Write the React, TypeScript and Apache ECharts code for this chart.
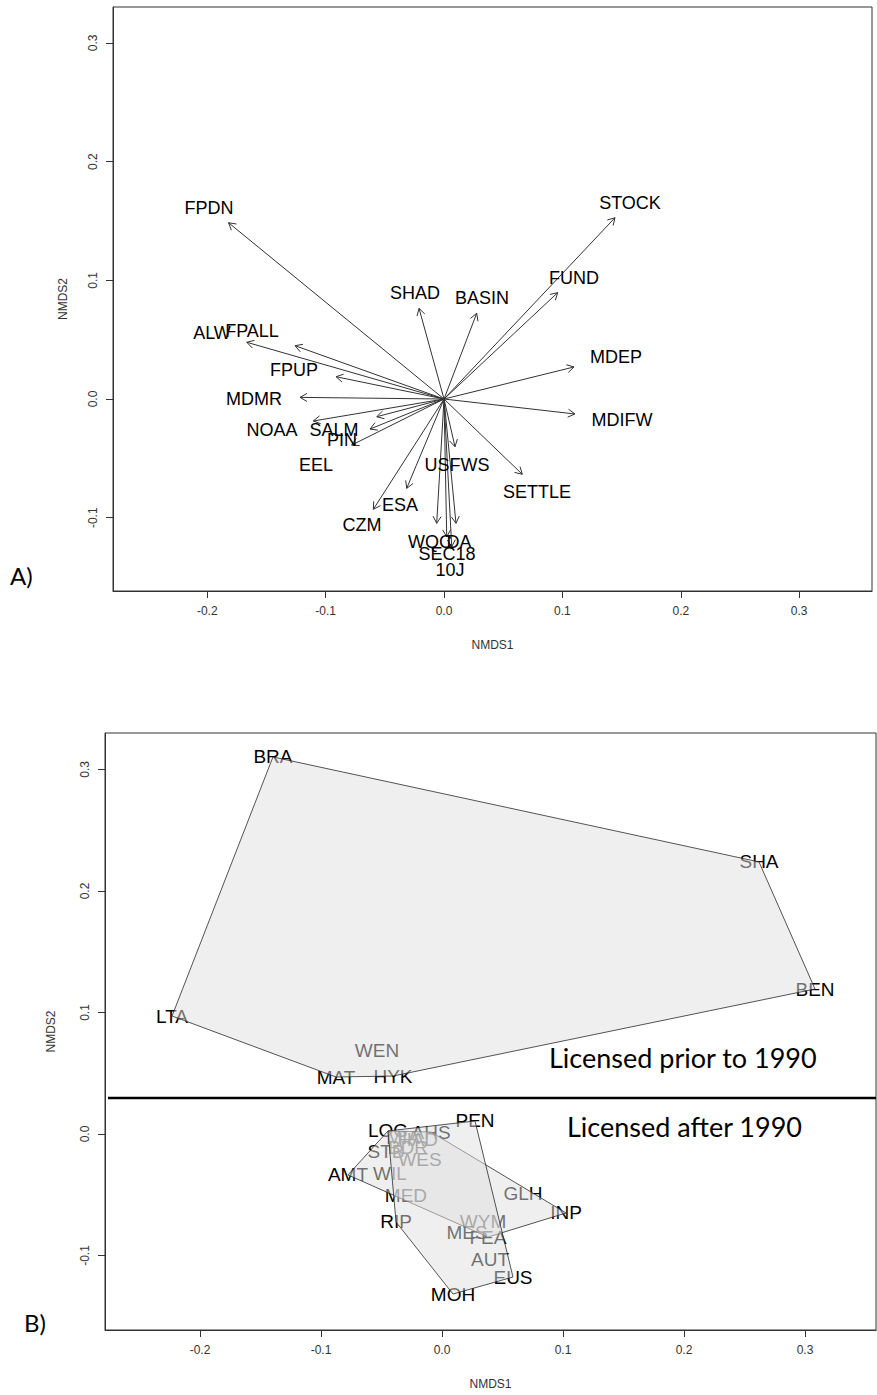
import React, { useEffect, useRef } from "react";
import * as echarts from "echarts";

// ---------- Panel A: fitted vectors (envfit) ----------
const vectorNames = ["FPDN", "STOCK", "FUND", "SHAD", "BASIN", "MDEP", "MDIFW", "SETTLE", "USFWS", "ALW", "FPALL", "FPUP", "MDMR", "NOAA", "SALM", "PIN", "EEL", "ESA", "CZM", "WQC", "DA", "SEC18", "10J"];
const vectorNMDS1 = [-0.182, 0.1444, 0.096, -0.0211, 0.0276, 0.1098, 0.1106, 0.0661, 0.0093, -0.1666, -0.1258, -0.0912, -0.1216, -0.1104, -0.0568, -0.0625, -0.078, -0.0315, -0.0597, -0.0062, 0.0101, 0.0023, 0.0065];
const vectorNMDS2 = [0.1485, 0.1527, 0.0896, 0.0764, 0.0722, 0.027, -0.0126, -0.0634, -0.0402, 0.0478, 0.0449, 0.0188, 0.0014, -0.0185, -0.0149, -0.0253, -0.0388, -0.0752, -0.0929, -0.1047, -0.1047, -0.116, -0.1244];
const vectorLabelNMDS1 = [-0.1985, 0.1571, 0.1098, -0.0245, 0.0321, 0.1453, 0.1503, 0.0785, 0.011, -0.196, -0.1622, -0.1267, -0.1605, -0.1453, -0.0929, -0.0861, -0.1081, -0.0372, -0.0693, -0.0118, 0.0127, 0.0025, 0.0051];
const vectorLabelNMDS2 = [0.1609, 0.1651, 0.1019, 0.0893, 0.0851, 0.0354, -0.0177, -0.0783, -0.0556, 0.0556, 0.0573, 0.0244, 0, -0.0261, -0.0261, -0.0345, -0.0556, -0.0893, -0.1061, -0.1205, -0.1205, -0.1306, -0.1441];

// ---------- Panel B: site scores ----------
const siteNames = ["BRA", "SHA", "BEN", "HYK", "MAT", "LTA", "WEN", "LOG", "PEN", "EUS", "MOH", "RIP", "AMT", "INP", "FEA", "STB", "MIA", "HAD", "AHS", "BDR", "WES", "WIL", "MED", "GLH", "WYM", "MES", "AUT"];
const siteNMDS1 = [-0.1397, 0.262, 0.3083, -0.0405, -0.0876, -0.2231, -0.0537, -0.0446, 0.0273, 0.0587, 0.0091, -0.038, -0.0777, 0.1025, 0.038, -0.0463, -0.0322, -0.0198, -0.009, -0.0281, -0.0182, -0.043, -0.0298, 0.0669, 0.0339, 0.0207, 0.0397];
const siteNMDS2 = [0.3103, 0.2239, 0.1193, 0.0477, 0.0469, 0.0971, 0.0691, 0.0025, 0.0107, -0.1177, -0.1317, -0.0724, -0.0337, -0.065, -0.0848, -0.014, -0.0025, -0.0049, 0.0016, -0.0115, -0.0206, -0.0321, -0.051, -0.0486, -0.0716, -0.0807, -0.1029];

const hullPrior1990 = ["BRA", "SHA", "BEN", "HYK", "MAT", "LTA"];
const hullAfter1990a = ["AMT", "LOG", "AHS", "INP", "FEA"];
const hullAfter1990b = ["LOG", "PEN", "EUS", "MOH", "RIP"];
const hulls = [hullPrior1990, hullAfter1990a, hullAfter1990b];

const dividerNMDS2 = 0.0296;
const dividerNMDS1 = [-0.276, 0.3587];

const ticksX = [-0.2, -0.1, 0, 0.1, 0.2, 0.3];
const ticksY = [-0.1, 0, 0.1, 0.2, 0.3];

const FONT = "Liberation Sans, Arial, Helvetica, sans-serif";

function makeXAxis(gridIndex: number, min: number, max: number, nameGap: number) {
  return {
    type: "value",
    gridIndex,
    min,
    max,
    name: "NMDS1",
    nameLocation: "middle",
    nameGap,
    nameTextStyle: { fontSize: 12, color: "#333", fontFamily: FONT },
    axisLine: { show: true, onZero: false, lineStyle: { color: "#333", width: 1 } },
    axisTick: { show: true, inside: false, length: 7, customValues: ticksX, lineStyle: { color: "#333" } },
    axisLabel: {
      customValues: ticksX,
      formatter: (v: number) => (Math.abs(v) < 1e-9 ? "0.0" : v.toFixed(1)),
      margin: 14,
      fontSize: 12,
      color: "#333",
      fontFamily: FONT,
    },
    splitLine: { show: false },
  };
}

function makeYAxis(gridIndex: number, min: number, max: number, nameGap: number) {
  return {
    type: "value",
    gridIndex,
    min,
    max,
    name: "NMDS2",
    nameLocation: "middle",
    nameRotate: 90,
    nameGap,
    nameTextStyle: { fontSize: 12, color: "#333", fontFamily: FONT },
    axisLine: { show: true, onZero: false, lineStyle: { color: "#333", width: 1 } },
    axisTick: { show: true, inside: false, length: 7, customValues: ticksY, lineStyle: { color: "#333" } },
    axisLabel: {
      customValues: ticksY,
      formatter: (v: number) => (Math.abs(v) < 1e-9 ? "0.0" : v.toFixed(1)),
      rotate: 90,
      margin: 14,
      fontSize: 12,
      color: "#333",
      fontFamily: FONT,
    },
    splitLine: { show: false },
  };
}

export default function App() {
  const ref = useRef<HTMLDivElement>(null);

  useEffect(() => {
    if (!ref.current) return;
    const chart = echarts.init(ref.current, undefined, { renderer: "svg" });

    const option: any = {
      animation: false,
      backgroundColor: "#ffffff",
      grid: [
        { left: 113, top: 7, width: 759, height: 584, show: true, borderColor: "#333", borderWidth: 1, backgroundColor: "transparent" },
        { left: 105, top: 733, width: 771, height: 597, show: true, borderColor: "#333", borderWidth: 1, backgroundColor: "transparent" },
      ],
      xAxis: [makeXAxis(0, -0.2796, 0.3615, 48), makeXAxis(1, -0.2785, 0.3587, 48)],
      yAxis: [makeYAxis(0, -0.1617, 0.3302, 44), makeYAxis(1, -0.1613, 0.33, 48)],
      series: [
        // Panel A arrows
        {
          type: "custom",
          xAxisIndex: 0,
          yAxisIndex: 0,
          coordinateSystem: "cartesian2d",
          encode: { x: 0, y: 1 },
          data: vectorNames.map((n, i) => ({ name: n, value: [vectorNMDS1[i], vectorNMDS2[i]] })),
          z: 2,
          renderItem: (params: any, api: any) => {
            const s = api.coord([0, 0]);
            const e = api.coord([api.value(0), api.value(1)]);
            const ang = Math.atan2(e[1] - s[1], e[0] - s[0]);
            const L = 8;
            const a = Math.PI / 6;
            const h1 = [e[0] - L * Math.cos(ang - a), e[1] - L * Math.sin(ang - a)];
            const h2 = [e[0] - L * Math.cos(ang + a), e[1] - L * Math.sin(ang + a)];
            return {
              type: "group",
              children: [
                { type: "line", shape: { x1: s[0], y1: s[1], x2: e[0], y2: e[1] }, style: { stroke: "#333", lineWidth: 1 } },
                { type: "polyline", shape: { points: [h1, e, h2] }, style: { stroke: "#333", lineWidth: 1, fill: null } },
              ],
            };
          },
        },
        // Panel A labels
        {
          type: "custom",
          xAxisIndex: 0,
          yAxisIndex: 0,
          coordinateSystem: "cartesian2d",
          encode: { x: 0, y: 1 },
          clip: false,
          data: vectorNames.map((n, i) => ({ name: n, value: [vectorLabelNMDS1[i], vectorLabelNMDS2[i]] })),
          z: 3,
          renderItem: (params: any, api: any) => {
            const p = api.coord([api.value(0), api.value(1)]);
            return {
              type: "text",
              x: p[0],
              y: p[1],
              style: { text: vectorNames[params.dataIndex], align: "center", verticalAlign: "middle", fontSize: 18, fontFamily: FONT, fill: "#000" },
            };
          },
        },
        // Panel B site labels (drawn beneath the hulls)
        {
          type: "custom",
          xAxisIndex: 1,
          yAxisIndex: 1,
          coordinateSystem: "cartesian2d",
          encode: { x: 0, y: 1 },
          clip: false,
          data: siteNames.map((n, i) => ({ name: n, value: [siteNMDS1[i], siteNMDS2[i]] })),
          z: 2,
          renderItem: (params: any, api: any) => {
            const p = api.coord([api.value(0), api.value(1)]);
            return {
              type: "text",
              x: p[0],
              y: p[1],
              style: { text: siteNames[params.dataIndex], align: "center", verticalAlign: "middle", fontSize: 19, fontFamily: FONT, fill: "#000" },
            };
          },
        },
        // Panel B hulls
        {
          type: "custom",
          xAxisIndex: 1,
          yAxisIndex: 1,
          coordinateSystem: "cartesian2d",
          encode: { x: 0, y: 1 },
          data: hulls.map((h, i) => {
            const k = siteNames.indexOf(h[0]);
            return { name: "hull" + i, value: [siteNMDS1[k], siteNMDS2[k]] };
          }),
          z: 4,
          renderItem: (params: any, api: any) => {
            const names = hulls[params.dataIndex];
            const pts = names.map((n) => {
              const k = siteNames.indexOf(n);
              return api.coord([siteNMDS1[k], siteNMDS2[k]]);
            });
            return {
              type: "polygon",
              shape: { points: pts },
              style: { fill: "rgba(224,224,224,0.5)", stroke: "#2a2a2a", lineWidth: 0.8 },
            };
          },
        },
        // Divider line
        {
          type: "line",
          xAxisIndex: 1,
          yAxisIndex: 1,
          data: [
            [dividerNMDS1[0], dividerNMDS2],
            [dividerNMDS1[1], dividerNMDS2],
          ],
          symbol: "none",
          lineStyle: { color: "#000", width: 2.5 },
          z: 5,
          silent: true,
        },
      ],
      graphic: [
        { type: "text", left: 10, top: 563, style: { text: "A)", fontSize: 24, fontFamily: "Lato, Open Sans, sans-serif", fill: "#000" } },
        { type: "text", left: 24, top: 1310, style: { text: "B)", fontSize: 24, fontFamily: "Lato, Open Sans, sans-serif", fill: "#000" } },
        { type: "text", left: 549, top: 1044, z: 10, style: { text: "Licensed prior to 1990", fontSize: 27, fontFamily: "Lato, Open Sans, sans-serif", fill: "#000" } },
        { type: "text", left: 567, top: 1113, z: 10, style: { text: "Licensed after 1990", fontSize: 27, fontFamily: "Lato, Open Sans, sans-serif", fill: "#000" } },
      ],
    };

    chart.setOption(option);
    return () => {
      chart.dispose();
    };
  }, []);

  return <div ref={ref} style={{ position: "absolute", left: 0, top: 0, width: 877, height: 1395, background: "#fff" }} />;
}
